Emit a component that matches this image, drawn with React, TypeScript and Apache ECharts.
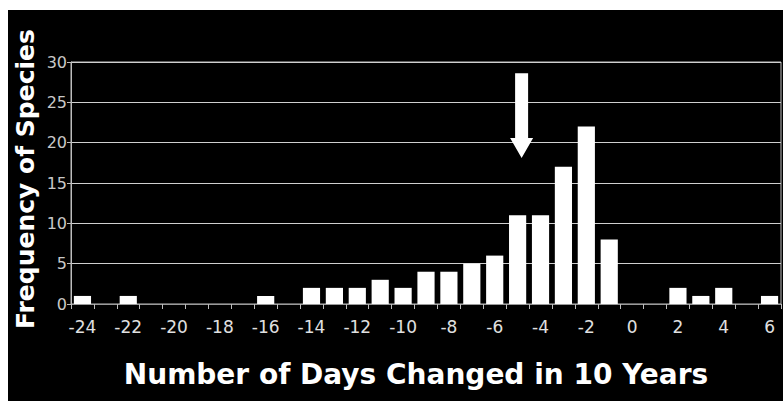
import React, { useEffect, useRef } from "react";
import * as echarts from "echarts";

const days = [
  "-24", "-23", "-22", "-21", "-20", "-19", "-18", "-17", "-16", "-15", "-14",
  "-13", "-12", "-11", "-10", "-9", "-8", "-7", "-6", "-5", "-4", "-3", "-2",
  "-1", "0", "1", "2", "3", "4", "5", "6",
];
const frequency = [
  1, 0, 1, 0, 0, 0, 0, 0, 1, 0, 2,
  2, 2, 3, 2, 4, 4, 5, 6, 11, 11, 17, 22,
  8, 0, 0, 2, 1, 2, 0, 1,
];
const yTicks = [0, 5, 10, 15, 20, 25, 30];
const arrowCategory = "-5";
const arrowTopValue = 28.6;
const arrowTipValue = 18.1;

export default function App() {
  const ref = useRef<HTMLDivElement>(null);
  useEffect(() => {
    if (!ref.current) return;
    const chart = echarts.init(ref.current, undefined, { renderer: "svg" });
    chart.setOption({
      animation: false,
      backgroundColor: "#000",
      grid: {
        left: 63,
        right: 2,
        top: 52,
        bottom: 97,
        containLabel: false,
        outerBoundsMode: "none",
        show: true,
        borderColor: "#bdbdbd",
        borderWidth: 1,
      },
      xAxis: {
        type: "category",
        data: days,
        name: "Number of Days Changed in 10 Years",
        nameLocation: "middle",
        nameGap: 56,
        nameMoveOverlap: false,
        nameTextStyle: {
          color: "#fff",
          fontFamily: "DejaVu Sans",
          fontWeight: "bold",
          fontSize: 28,
          padding: [0, 20, 0, 0],
        },
        axisLine: { lineStyle: { color: "#9a9a9a", width: 1 } },
        axisTick: {
          show: true,
          interval: 0,
          length: 5,
          lineStyle: { color: "#bdbdbd" },
        },
        axisLabel: {
          interval: 1,
          color: "#e0e0e0",
          fontFamily: "DejaVu Sans",
          fontSize: 17,
          margin: 14,
        },
      },
      yAxis: {
        type: "value",
        min: yTicks[0],
        max: yTicks[yTicks.length - 1],
        interval: 5,
        name: "Frequency of Species",
        nameLocation: "middle",
        nameGap: 33,
        nameMoveOverlap: false,
        nameTextStyle: {
          color: "#fff",
          fontFamily: "DejaVu Sans",
          fontWeight: "bold",
          fontSize: 25,
          padding: [0, 0, 0, 8],
        },
        axisLine: { show: true, lineStyle: { color: "#bdbdbd" } },
        axisTick: { show: true, length: 4, lineStyle: { color: "#bdbdbd" } },
        axisLabel: {
          color: "#c8c8c8",
          fontFamily: "DejaVu Sans",
          fontSize: 16,
          margin: 4,
        },
        splitLine: { lineStyle: { color: "#cfcfcf", width: 1 } },
      },
      series: [
        {
          type: "bar",
          data: frequency,
          barCategoryGap: "25%",
          itemStyle: { color: "#fff" },
        },
      ],
    });

    const top = chart.convertToPixel({ seriesIndex: 0 }, [arrowCategory, arrowTopValue]) as number[];
    const tip = chart.convertToPixel({ seriesIndex: 0 }, [arrowCategory, arrowTipValue]) as number[];
    const cx = top[0] + 4;
    const shaftHalf = 6.5;
    const headHalf = 11.5;
    const headH = 20;
    const baseY = tip[1] - headH;
    chart.setOption({
      graphic: [
        {
          type: "polygon",
          shape: {
            points: [
              [cx - shaftHalf, top[1]],
              [cx + shaftHalf, top[1]],
              [cx + shaftHalf, baseY],
              [cx + headHalf, baseY],
              [cx, tip[1]],
              [cx - headHalf, baseY],
              [cx - shaftHalf, baseY],
            ],
          },
          style: { fill: "#fff" },
          z: 100,
        },
      ],
    });

    return () => chart.dispose();
  }, []);

  return (
    <div
      ref={ref}
      style={{
        position: "absolute",
        left: 8,
        top: 10,
        width: 775,
        height: 391,
        background: "#000",
      }}
    />
  );
}
